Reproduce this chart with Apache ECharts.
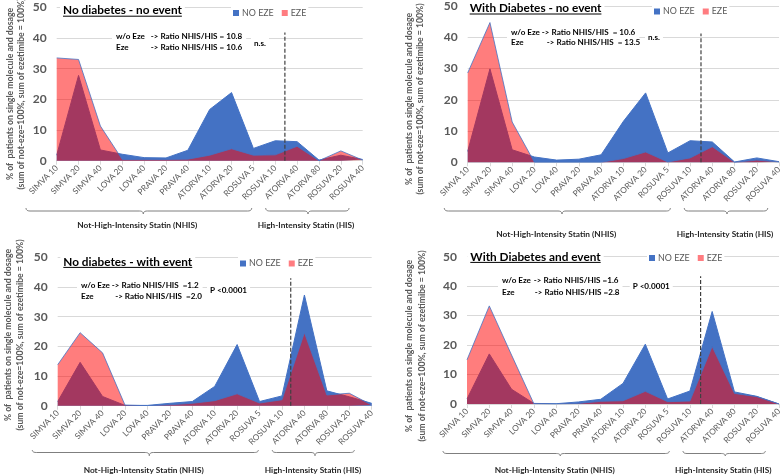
<!DOCTYPE html>
<html><head><meta charset="utf-8">
<script src="https://cdn.jsdelivr.net/npm/echarts@6/dist/echarts.min.js"></script>
<style>html,body{margin:0;padding:0;background:#fff}#c{width:784px;height:476px}</style>
</head><body><div id="c"></div>
<script>
// ---------- DATA ----------
const categories = ['SIMVA 10','SIMVA 20','SIMVA 40','LOVA 20','LOVA 40','PRAVA 20','PRAVA 40','ATORVA 10','ATORVA 20','ROSUVA 5','ROSUVA 10','ATORVA 40','ATORVA 80','ROSUVA 20','ROSUVA 40'];
const yTicks = [0, 10, 20, 30, 40, 50];
const panelTitles = ['No diabetes - no event','With Diabetes - no event','No diabetes - with event','With Diabetes and event'];
const seriesNames = ['NO EZE','EZE'];

const noEzeP1 = [1.8, 27.8, 3.5, 2.1, 1.0, 0.9, 3.4, 16.7, 22.2, 4.0, 6.5, 6.2, 0.2, 1.8, 0.4];
const ezeP1   = [33.5, 33.0, 11.3, 0.4, 0.4, 0.4, 0.5, 1.8, 3.9, 1.8, 1.9, 4.7, 0.0, 3.2, 0.2];
const noEzeP2 = [3.5, 29.9, 4.0, 1.7, 0.7, 1.0, 2.4, 13.1, 22.2, 3.0, 6.9, 6.5, 0.1, 1.4, 0.2];
const ezeP2   = [28.6, 44.7, 12.9, 0.0, 0.0, 0.0, 0.0, 1.2, 3.3, 0.1, 1.4, 5.0, 0.0, 0.7, 0.1];
const noEzeP3 = [1.4, 14.6, 3.1, 0.1, 0.1, 0.8, 1.4, 6.5, 20.6, 1.4, 3.3, 37.3, 5.0, 3.0, 0.8];
const ezeP3   = [13.8, 24.6, 17.8, 0.2, 0.0, 0.3, 0.8, 1.7, 4.0, 0.9, 2.0, 24.6, 3.6, 4.2, 0.2];
const noEzeP4 = [1.7, 17.0, 5.0, 0.2, 0.1, 0.7, 1.6, 7.0, 20.3, 1.7, 4.4, 31.4, 4.1, 2.6, 0.0];
const ezeP4   = [15.0, 33.3, 16.6, 0.1, 0.0, 0.2, 0.9, 1.1, 4.3, 0.8, 1.0, 19.5, 3.6, 2.5, 0.0];

const ratioLabels = ['w/o Eze', 'Eze'];
const ratioTextWo = ['-> Ratio NHIS/HIS = 10.8', '-> Ratio NHIS/HIS  = 10.6', '-> Ratio NHIS/HIS  =1.2', '-> Ratio NHIS/HIS =1.6'];
const ratioTextEze = ['-> Ratio NHIS/HIS = 10.6', '-> Ratio NHIS/HIS  = 13.5', '-> Ratio NHIS/HIS  =2.0', '-> Ratio NHIS/HIS =2.8'];
const significance = ['n.s.', 'n.s.', 'P <0.0001', 'P <0.0001'];
const groupLabels = ['Not-High-Intensity Statin (NHIS)', 'High-Intensity Statin (HIS)'];
const yTitleLines = ['% of  patients on single molecule and dosage', '(sum of not-eze=100%, sum of ezetimibe = 100%)'];
const dividerPos = [10.44, 10.49, 10.39, 10.48];   // between ROSUVA 10 and ATORVA 40 (category index)
const dividerTop = [41.8, 41.2, 42.9, 43.4];

const noEze = [noEzeP1, noEzeP2, noEzeP3, noEzeP4];
const eze = [ezeP1, ezeP2, ezeP3, ezeP4];

// ---------- LAYOUT / STYLE ----------
const FONT = 'Lato, "Open Sans", sans-serif';
const BLUE = '#4472C4';
const RED = 'rgba(255,0,0,0.51)';
const GRAY = '#595959';

const layout = [
  {grid:{left:56.7,top:7.3,width:306,height:153.4}, title:{x:63,y:10.5,ul:16.2}, legend:{left:231,top:6.5},
   ann:{x1:116,x2:150.7,x2b:150.7,y1:36.7,y2:47.3}, sig:{x:254,y:43.3}, yT:{x1:10,x2:21,cy:94},
   br:{y0:208,y1:211,y2:214,n:[26,251.7,143.3],h:[265.7,349,308],ty:225.7,nx:137.3,hx:306}},
  {grid:{left:467.7,top:5,width:313.3,height:157.3}, title:{x:469.7,y:8.3,ul:14},legend:{left:652,top:5},
   ann:{x1:511,x2:540.3,x2b:545.3,y1:32.3,y2:42.7}, sig:{x:648,y:37.7}, yT:{x1:408.7,x2:420,cy:99},
   br:{y0:208,y1:211,y2:214,n:[444.3,670.3,562],h:[684.3,767.7,727],ty:234,nx:556.3,hx:725}},
  {grid:{left:57.7,top:257.3,width:314,height:148.4}, title:{x:63.3,y:261.7,ul:267.4},legend:{left:238,top:257},
   ann:{x1:81,x2:111.7,x2b:115,y1:285.7,y2:296.7}, sig:{x:210,y:290}, yT:{x1:8,x2:20,cy:335},
   br:{y0:450,y1:452.5,y2:455.7,n:[32.3,258.3,149.3],h:[272.3,354.3,315],ty:470.7,nx:143.7,hx:313}},
  {grid:{left:467,top:256.7,width:313.3,height:147.3}, title:{x:470.3,y:256.7,ul:262.4},legend:{left:647,top:251.5},
   ann:{x1:502,x2:533.7,x2b:534.7,y1:280.7,y2:292.3}, sig:{x:632.7,y:286}, yT:{x1:409.5,x2:422,cy:346},
   br:{y0:451,y1:453.5,y2:456,n:[443,669.3,560.3],h:[683,765.3,725.3],ty:470.7,nx:554.7,hx:723.3}}
];

const mctx = document.createElement('canvas').getContext('2d');
function fit(text, weight, target) {
  mctx.font = weight + ' 100px ' + FONT;
  return Math.round(target / mctx.measureText(text).width * 1000) / 10;
}
function textW(text, weight, size) {
  mctx.font = weight + ' ' + size + 'px ' + FONT;
  return mctx.measureText(text).width;
}
const titleSize = fit('No diabetes - no event', 'bold', 119);
const annSize = fit('-> Ratio NHIS/HIS = 10.8', 'bold', 91);
const groupSize = fit('Not-High-Intensity Statin (NHIS)', 'bold', 120);
const yTitleSize = fit(yTitleLines[0], 'bold', 173);
const catSize = fit('SIMVA 10', 'normal', 37);
const legSize = fit('NO EZE', 'normal', 32);

// quadratic curve sampled into points
function quad(p0, c, p1, n) {
  const pts = [];
  for (let k = 1; k <= n; k++) {
    const t = k / n, u = 1 - t;
    pts.push([u*u*p0[0] + 2*u*t*c[0] + t*t*p1[0], u*u*p0[1] + 2*u*t*c[1] + t*t*p1[1]]);
  }
  return pts;
}
function bracePoints(x1, x2, cx, y0, y1, y2) {
  const r = 4;
  let pts = [[x1, y0]];
  pts = pts.concat(quad([x1,y0],[x1,y1],[x1+r,y1],6));
  pts.push([cx-r, y1]);
  pts = pts.concat(quad([cx-r,y1],[cx,y1],[cx,y2],6));
  pts = pts.concat(quad([cx,y2],[cx,y1],[cx+r,y1],6));
  pts.push([x2-r, y1]);
  pts = pts.concat(quad([x2-r,y1],[x2,y1],[x2,y0],6));
  return pts;
}

const grids = [], xAxes = [], yAxes = [], series = [], legends = [], graphics = [];
layout.forEach((L, i) => {
  grids.push(Object.assign({containLabel:false}, L.grid));
  xAxes.push({type:'category', gridIndex:i, data:categories, boundaryGap:false,
    axisLine:{lineStyle:{color:'#d9d9d9'}}, axisTick:{show:true, length:4, lineStyle:{color:'#d9d9d9'}},
    axisLabel:{interval:0, rotate:45, fontSize:catSize, color:GRAY, fontFamily:FONT, margin:6}});
  yAxes.push({type:'value', gridIndex:i, min:yTicks[0], max:yTicks[yTicks.length-1], interval:yTicks[1]-yTicks[0],
    axisLine:{show:false}, axisTick:{show:false}, splitLine:{lineStyle:{color:'#d9d9d9', width:1}},
    axisLabel:{fontSize:12, color:GRAY, fontWeight:'bold', fontFamily:FONT, margin:10}});
  series.push({name:seriesNames[0], type:'line', xAxisIndex:i, yAxisIndex:i, data:noEze[i], symbol:'none',
    lineStyle:{color:BLUE, width:1}, itemStyle:{color:BLUE}, areaStyle:{color:BLUE, opacity:1}, z:2});
  series.push({name:seriesNames[1], type:'line', xAxisIndex:i, yAxisIndex:i, data:eze[i], symbol:'none',
    lineStyle:{color:BLUE, width:0.8}, itemStyle:{color:RED}, areaStyle:{color:RED, opacity:1}, z:3});
  legends.push({left:L.legend.left, top:L.legend.top, orient:'horizontal', icon:'rect', itemWidth:6, itemHeight:6,
    itemGap:8, backgroundColor:'#fff', padding:[2,2],
    textStyle:{fontSize:legSize, color:GRAY, fontFamily:FONT, padding:[0,0,0,-2]},
    data:[{name:seriesNames[0], itemStyle:{color:BLUE}}, {name:seriesNames[1], itemStyle:{color:'#ff7c80'}}]});
});
// hidden value x axes for dashed dividers
layout.forEach((L, i) => {
  xAxes.push({type:'value', gridIndex:i, min:0, max:categories.length-1, show:false});
  series.push({type:'line', xAxisIndex:4+i, yAxisIndex:i, symbol:'none', silent:true, z:5,
    data:[[dividerPos[i], 0], [dividerPos[i], dividerTop[i]]],
    lineStyle:{color:'#404040', width:1.2, type:[4,2]}});
});

layout.forEach((L, i) => {
  const tw = textW(panelTitles[i], 'bold', titleSize);
  graphics.push({type:'rect', shape:{x:L.title.x-3, y:L.title.y-8, width:tw+6, height:16}, style:{fill:'#fff'}, z:90});
  graphics.push({type:'text', x:L.title.x, y:L.title.y, z:100, style:{text:panelTitles[i], font:`bold ${titleSize}px ${FONT}`, fill:'#000', textVerticalAlign:'middle'}});
  graphics.push({type:'line', shape:{x1:L.title.x, y1:L.title.ul, x2:L.title.x+tw, y2:L.title.ul}, style:{stroke:'#000', lineWidth:1}, z:100});
  // annotation
  const minX2 = L.ann.x1 + textW(ratioLabels[0] + ' ', 'bold', annSize);
  const shift = Math.max(0, minX2 - L.ann.x2);
  const x2 = L.ann.x2 + shift, x2b = L.ann.x2b + shift;
  const aw = x2 - L.ann.x1 + textW(ratioTextWo[i], 'bold', annSize);
  graphics.push({type:'rect', shape:{x:L.ann.x1-4, y:L.ann.y1-7, width:aw+8, height:L.ann.y2-L.ann.y1+14}, style:{fill:'#fff'}, z:90});
  graphics.push({type:'text', x:L.ann.x1, y:L.ann.y1, z:100, style:{text:ratioLabels[0], font:`bold ${annSize}px ${FONT}`, fill:'#000', textVerticalAlign:'middle'}});
  graphics.push({type:'text', x:x2, y:L.ann.y1, z:100, style:{text:ratioTextWo[i], font:`bold ${annSize}px ${FONT}`, fill:'#000', textVerticalAlign:'middle'}});
  graphics.push({type:'text', x:L.ann.x1, y:L.ann.y2, z:100, style:{text:ratioLabels[1], font:`bold ${annSize}px ${FONT}`, fill:'#000', textVerticalAlign:'middle'}});
  graphics.push({type:'text', x:x2b, y:L.ann.y2, z:100, style:{text:ratioTextEze[i], font:`bold ${annSize}px ${FONT}`, fill:'#000', textVerticalAlign:'middle'}});
  const sw = textW(significance[i], 'bold', annSize);
  graphics.push({type:'rect', shape:{x:L.sig.x-3, y:L.sig.y-7, width:sw+6, height:14}, style:{fill:'#fff'}, z:90});
  graphics.push({type:'text', x:L.sig.x, y:L.sig.y, z:100, style:{text:significance[i], font:`bold ${annSize}px ${FONT}`, fill:'#000', textVerticalAlign:'middle'}});
  // y title
  graphics.push({type:'text', x:L.yT.x1, y:L.yT.cy, rotation:Math.PI/2, z:100, style:{text:yTitleLines[0], font:`bold ${yTitleSize}px ${FONT}`, fill:GRAY, textAlign:'center', textVerticalAlign:'middle'}});
  graphics.push({type:'text', x:L.yT.x2, y:L.yT.cy, rotation:Math.PI/2, z:100, style:{text:yTitleLines[1], font:`bold ${yTitleSize}px ${FONT}`, fill:GRAY, textAlign:'center', textVerticalAlign:'middle'}});
  // braces
  const b = L.br;
  graphics.push({type:'polyline', shape:{points:bracePoints(b.n[0], b.n[1], b.n[2], b.y0, b.y1, b.y2)}, style:{stroke:'#7f7f7f', lineWidth:1, fill:null}, z:100});
  graphics.push({type:'polyline', shape:{points:bracePoints(b.h[0], b.h[1], b.h[2], b.y0, b.y1, b.y2)}, style:{stroke:'#7f7f7f', lineWidth:1, fill:null}, z:100});
  graphics.push({type:'text', x:b.nx, y:b.ty, z:100, style:{text:groupLabels[0], font:`bold ${groupSize}px ${FONT}`, fill:'#262626', textAlign:'center', textVerticalAlign:'middle'}});
  graphics.push({type:'text', x:b.hx, y:b.ty, z:100, style:{text:groupLabels[1], font:`bold ${groupSize}px ${FONT}`, fill:'#262626', textAlign:'center', textVerticalAlign:'middle'}});
});

const chart = echarts.init(document.getElementById('c'), null, {renderer:'canvas'});
chart.setOption({
  animation:false, backgroundColor:'#fff',
  grid:grids, xAxis:xAxes, yAxis:yAxes, series:series, legend:legends, graphic:graphics
});
</script></body></html>
